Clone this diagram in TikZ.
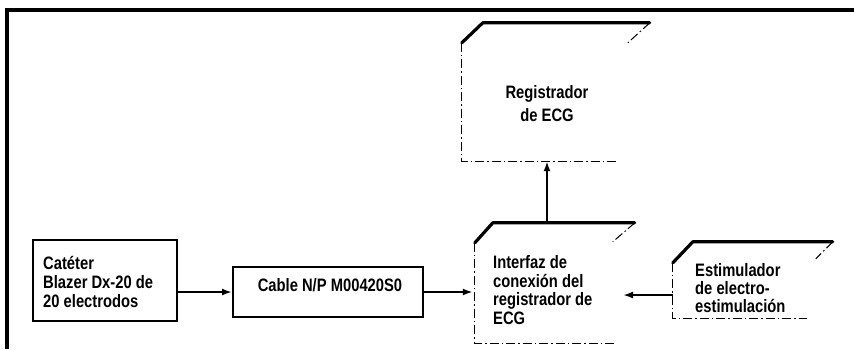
\documentclass[tikz,border=0pt]{standalone}
\usepackage{fontspec}
\setmainfont[FakeStretch=0.82]{Liberation Sans}
\usetikzlibrary{arrows.meta}
\begin{document}
\begin{tikzpicture}[x=1pt,y=-1pt,
  lbl/.style={font=\fontsize{18}{19}\selectfont\bfseries, align=left, inner sep=0pt},
  solidbox/.style={draw, line width=2pt, inner sep=0pt},
  body/.style={inner sep=0pt},
  thickedge/.style={line width=3.2pt, line cap=round, line join=round},
  dashedge/.style={line width=1pt, dash pattern=on 9pt off 3pt on 1.5pt off 3pt},
  arr/.style={line width=2.2pt, -{Latex[length=10pt,width=7pt]}}]
\useasboundingbox (0,0) rectangle (854,349);
% frame
\draw[line width=4pt] (7,349) -- (7,10) -- (854,10);
% solid boxes
\node[solidbox, minimum width=144pt, minimum height=81pt] (cat) at (105,280.5) {};
\node[lbl, anchor=west, font=\fontsize{18}{19}\selectfont\bfseries] (cattxt) at (43,282) {Catéter\\Blazer Dx-20 de\\20 electrodos};
\node[solidbox, minimum width=190pt, minimum height=50pt] (cab) at (328,292) {};
\node[lbl] (cabtxt) at (330,285) {Cable N/P M00420S0};
% 3D boxes
\node[body, minimum width=155pt, minimum height=118pt] (reg) at (539.5,102) {};
\node[lbl, align=center, font=\fontsize{18}{23}\selectfont\bfseries] (regtxt) at (547,104) {Registrador\\de ECG};
\node[body, minimum width=142pt, minimum height=100pt] (int) at (546,293) {};
\node[lbl, anchor=west, font=\fontsize{18}{18.5}\selectfont\bfseries] (inttxt) at (493,290) {Interfaz de\\conexión del\\registrador de\\ECG};
\node[body, minimum width=134pt, minimum height=55pt] (est) at (740,290.5) {};
\node[lbl, anchor=west, font=\fontsize{18}{18}\selectfont\bfseries] (esttxt) at (695,288) {Estimulador\\de electro-\\estimulación};
% 3D box edges
\draw[dashedge] (reg.north west) -- (reg.south west) -- (reg.south east);
\draw[thickedge] (reg.north west) -- ++(21,-20) -- ++(167,0) coordinate (regtr);
\draw[dashedge] (regtr) -- ++(-22,20);
\draw[dashedge] (int.north west) -- (int.south west) -- (int.south east);
\draw[thickedge] (int.north west) -- ++(18,-20) -- ++(142,0) coordinate (inttr);
\draw[dashedge] (inttr) -- ++(-22,19);
\draw[dashedge] (est.north west) -- (est.south west) -- (est.south east);
\draw[thickedge] (est.north west) -- ++(20,-21) -- ++(140,0) coordinate (esttr);
\draw[dashedge] (esttr) -- ++(-17,17);
% connectors
\coordinate (inttop) at (547,223);
\coordinate (intin) at (623,295);
\draw[arr] (cat.east |- cab) -- (cab.west);
\draw[arr] (cab.east) -- ([xshift=-2pt]cab.east -| int.west);
\draw[arr] (est.west |- intin) -- (intin);
\draw[arr] (inttop) -- (inttop |- reg.south);
\end{tikzpicture}
\end{document}
